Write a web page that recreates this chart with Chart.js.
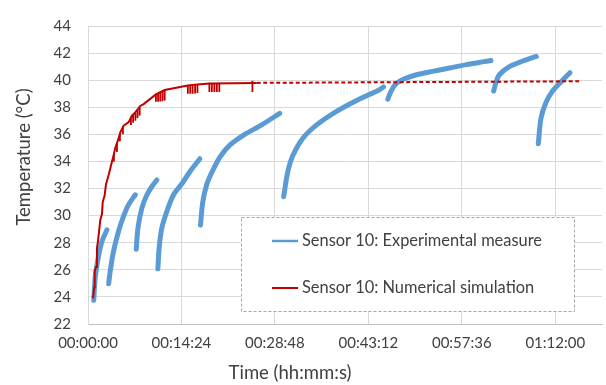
<!DOCTYPE html>
<html>
<head>
  <meta charset="utf-8" />
  <title>Sensor 10 - temperature</title>
  <script src="https://cdn.jsdelivr.net/npm/chart.js"></script>
  <style>
    body { margin: 0; background: #fff; }
  </style>
</head>
<body>
  <canvas id="tempChart" width="606" height="385"></canvas>

  <script>
    // Time axis in seconds, ticks every 14:24 (Excel 0.01 day)
    const xTickValues = [0, 864, 1728, 2592, 3456, 4320];
    const xMax = 4752;
    const yTicks = [22, 24, 26, 28, 30, 32, 34, 36, 38, 40, 42, 44];

    const legendLabels = ['Sensor 10: Experimental measure', 'Sensor 10: Numerical simulation'];

    // Experimental measure: one list of [seconds, °C] per heating run
    const expSegments = [
      [[53, 23.75], [67, 25.45], [99, 27.1], [129, 28.1], [175, 28.95]],
      [[191, 24.97], [206, 25.94], [237, 27.4], [283, 28.86], [329, 29.96], [375, 30.81], [437, 31.54]],
      [[446, 27.52], [462, 29.1], [498, 30.56], [545, 31.54], [591, 32.15], [637, 32.63]],
      [[646, 26.07], [658, 27.64], [683, 29.1], [729, 30.32], [791, 31.54], [868, 32.35], [942, 33.24], [1034, 34.2]],
      [[1040, 29.3], [1061, 31.0], [1098, 32.3], [1145, 33.2], [1218, 34.3], [1311, 35.2], [1449, 36.0], [1606, 36.7], [1772, 37.55]],
      [[1809, 31.4], [1846, 33.2], [1892, 34.4], [1985, 35.7], [2114, 36.7], [2298, 37.7], [2483, 38.5], [2695, 39.3], [2732, 39.5]],
      [[2772, 38.6], [2797, 39.1], [2843, 39.7], [2926, 40.1], [3037, 40.4], [3185, 40.65], [3342, 40.9], [3498, 41.15], [3646, 41.35], [3725, 41.45]],
      [[3750, 39.2], [3775, 39.9], [3803, 40.4], [3895, 41.0], [4015, 41.4], [4145, 41.75]],
      [[4163, 35.3], [4188, 37.2], [4234, 38.35], [4295, 39.2], [4388, 40.0], [4456, 40.55]]
    ];

    // Numerical simulation, solid part [seconds, °C]
    const simSolid = [
      [46, 23.9], [58, 24.7], [62, 25.9], [74, 26.2], [83, 27.6], [92, 28.1],
      [114, 29.7], [129, 30.1], [136, 31.0], [154, 31.5], [166, 32.3], [191, 33.0],
      [222, 34.0], [237, 34.45], [252, 35.0], [283, 35.7], [298, 36.15], [330, 36.65],
      [376, 36.9], [406, 37.38], [437, 37.62], [483, 38.1], [514, 38.23], [628, 38.95],
      [709, 39.27], [923, 39.6], [1012, 39.69], [1122, 39.76], [1560, 39.8]
    ];

    // saw teeth of the simulation: [seconds, top °C, bottom °C]
    const simTeeth = [
      [240, 34.6, 34.0], [268, 35.3, 34.7], [295, 36.1, 35.5], [323, 36.6, 36.0],
      [397, 37.3, 36.7], [417, 37.45, 36.85], [438, 37.6, 37.0], [458, 37.8, 37.2], [478, 38.0, 37.4],
      [628, 38.95, 38.4], [648, 39.03, 38.4], [668, 39.11, 38.42], [689, 39.19, 38.45], [709, 39.27, 38.5],
      [923, 39.6, 39.0], [945, 39.62, 39.0], [967, 39.64, 39.0], [990, 39.67, 39.02], [1012, 39.69, 39.05],
      [1122, 39.76, 39.13], [1145, 39.76, 39.13], [1168, 39.77, 39.13], [1191, 39.77, 39.13], [1214, 39.77, 39.13],
      [1520, 39.95, 39.13]
    ];

    // Numerical simulation, extrapolated part (dashed)
    const simTail = [[1560, 39.8], [4542, 39.92]];

    function toPoints(list) {
      return list.map(p => ({ x: p[0], y: p[1] }));
    }

    // join the runs, with a gap between each
    const expPoints = [];
    expSegments.forEach((seg, i) => {
      if (i > 0) expPoints.push({ x: seg[0][0] - 1, y: null });
      seg.forEach(p => expPoints.push({ x: p[0], y: p[1] }));
    });

    const teethPoints = [];
    simTeeth.forEach(t => {
      teethPoints.push({ x: t[0], y: t[1] }, { x: t[0], y: t[2] }, { x: t[0], y: null });
    });

    function fmtTime(sec) {
      const h = Math.floor(sec / 3600);
      const m = Math.floor((sec % 3600) / 60);
      const s = Math.round(sec % 60);
      return [h, m, s].map(n => String(n).padStart(2, '0')).join(':');
    }

    const textColor = '#404040';
    const blue = '#5B9BD5';
    const red = '#C00000';
    const fontFamily = 'Lato, "Open Sans", sans-serif';

    // axis titles and the dashed legend box inside the plot
    const decorations = {
      id: 'decorations',
      afterDraw(chart) {
        const ctx = chart.ctx;
        ctx.save();
        ctx.fillStyle = textColor;
        ctx.font = '18.5px ' + fontFamily;
        ctx.textAlign = 'center';
        ctx.textBaseline = 'middle';
        ctx.fillText('Time (hh:mm:s)', 290, 373);
        ctx.translate(24, 157);
        ctx.rotate(-Math.PI / 2);
        ctx.fillText('Temperature (°C)', 0, 0);
        ctx.restore();

        // legend
        ctx.save();
        ctx.fillStyle = '#ffffff';
        ctx.fillRect(241, 217, 333, 94);
        ctx.setLineDash([3, 2]);
        ctx.strokeStyle = '#a6a6a6';
        ctx.lineWidth = 1;
        ctx.strokeRect(241.5, 217.5, 333, 94);
        ctx.setLineDash([]);
        const rows = [{ y: 241, color: blue, w: 2.5 }, { y: 288, color: red, w: 2 }];
        rows.forEach((r, i) => {
          ctx.strokeStyle = r.color;
          ctx.lineWidth = r.w;
          ctx.beginPath();
          ctx.moveTo(272, r.y);
          ctx.lineTo(298, r.y);
          ctx.stroke();
          ctx.fillStyle = textColor;
          ctx.font = '16.4px ' + fontFamily;
          ctx.textAlign = 'left';
          ctx.textBaseline = 'middle';
          ctx.fillText(legendLabels[i], 302, r.y);
        });
        ctx.restore();
      }
    };

    const ctx = document.getElementById('tempChart').getContext('2d');
    new Chart(ctx, {
      type: 'line',
      data: {
        datasets: [
          {
            label: legendLabels[1],
            data: toPoints(simSolid),
            borderColor: red,
            borderWidth: 2,
            pointRadius: 0,
            tension: 0
          },
          {
            label: legendLabels[1] + ' (teeth)',
            data: teethPoints,
            borderColor: red,
            borderWidth: 1.8,
            pointRadius: 0,
            spanGaps: false
          },
          {
            label: legendLabels[1] + ' (extrapolated)',
            data: toPoints(simTail),
            borderColor: red,
            borderWidth: 2,
            borderDash: [4, 2.5],
            pointRadius: 0
          },
          {
            label: legendLabels[0],
            data: expPoints,
            borderColor: blue,
            borderWidth: 5,
            borderCapStyle: 'round',
            borderJoinStyle: 'round',
            pointRadius: 0,
            spanGaps: false,
            tension: 0.3
          }
        ]
      },
      options: {
        responsive: false,
        animation: false,
        devicePixelRatio: 1,
        layout: { padding: { top: 22, right: 4, left: 0, bottom: 0 } },
        plugins: {
          legend: { display: false },
          tooltip: { enabled: false }
        },
        scales: {
          x: {
            type: 'linear',
            min: 0,
            max: xMax,
            afterFit: s => { s.height = 61; },
            afterBuildTicks: s => { s.ticks = xTickValues.map(v => ({ value: v })); },
            ticks: {
              autoSkip: false,
              maxRotation: 0,
              padding: 10,
              color: textColor,
              font: { family: fontFamily, size: 15 },
              callback: v => fmtTime(v)
            },
            grid: { color: '#d9d9d9', drawTicks: false },
            border: { color: '#bfbfbf' }
          },
          y: {
            min: yTicks[0],
            max: yTicks[yTicks.length - 1],
            afterFit: s => { s.width = 88; },
            ticks: {
              stepSize: 2,
              padding: 17,
              color: textColor,
              font: { family: fontFamily, size: 15 }
            },
            grid: { color: '#d9d9d9', drawTicks: false },
            border: { color: '#d9d9d9' }
          }
        }
      },
      plugins: [decorations]
    });
  </script>
</body>
</html>
